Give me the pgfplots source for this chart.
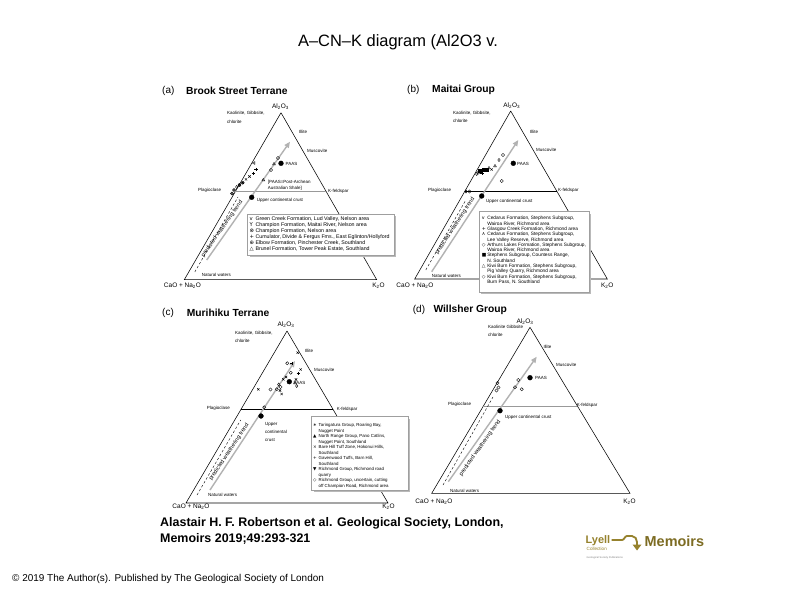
\documentclass[border=0pt]{standalone}
\usepackage{pgfplots}
\pgfplotsset{compat=1.18}
\usepackage{fontspec}
\setmainfont{Liberation Sans}
\newfontfamily\symf{DejaVu Sans}
\usetikzlibrary{arrows.meta}
\definecolor{lyell}{RGB}{150,130,45}
\definecolor{memo}{RGB}{125,108,35}
\definecolor{arr}{RGB}{178,178,178}
\begin{document}
\begin{tikzpicture}[
  lab/.style={font=\fontsize{4.5}{5.4}\selectfont, anchor=west, inner sep=0pt},
  crn/.style={font=\fontsize{6.5}{7.5}\selectfont, inner sep=0pt},
  pt/.style={font=\fontsize{10}{12}\selectfont, anchor=west, inner sep=0pt},
  ptb/.style={font=\bfseries\fontsize{10.3}{12}\selectfont, anchor=west, inner sep=0pt},
  trend/.style={font=\fontsize{5.7}{6.5}\selectfont, inner sep=0pt},
  legbox/.style={draw=gray!75, fill=white, line width=0.5bp},
  legshadow/.style={fill=gray!55, draw=none},
]
\begin{axis}[
  scale only axis, width=794bp, height=595bp,
  xmin=0, xmax=794, ymin=0, ymax=595, y dir=reverse,
  hide axis, clip=false,
  tri/.style={black, line width=0.55bp, mark=none},
  fsp/.style={line width=0.5bp, mark=none},
  dsh/.style={black, line width=0.4bp, dash pattern=on 2.5bp off 2bp, mark=none},
  trendarrow/.style={arr, line width=1.4bp, mark=none, -{Triangle[length=6bp,width=5bp]}},
  pts/.style={only marks, black, mark size=1.6bp, mark options={line width=0.4bp, fill=white}},
  big/.style={only marks, black, mark=*, mark size=2.4bp},
]
\fill[white] (axis cs:0,0) rectangle (axis cs:794,595);

% ---------------- Title and slide text ----------------
\node[font=\fontsize{16.5}{19}\selectfont, inner sep=0pt] at (axis cs:398,42) {A–CN–K diagram (Al2O3 v.};
\node[anchor=west, font=\bfseries\fontsize{12.5}{14}\selectfont, inner sep=0pt] at (axis cs:160,523) {Alastair H. F. Robertson et al. Geological Society, London,};
\node[anchor=west, font=\bfseries\fontsize{12.5}{14}\selectfont, inner sep=0pt] at (axis cs:160,539) {Memoirs 2019;49:293-321};
\node[anchor=west, font=\fontsize{10}{11}\selectfont, inner sep=0pt] at (axis cs:12,579) {© 2019 The Author(s). Published by The Geological Society of London};

% Lyell logo
\node[anchor=west, font=\bfseries\fontsize{11}{12}\selectfont, text=lyell, inner sep=0pt] at (axis cs:585.5,541) {Lyell};
\node[anchor=west, font=\fontsize{4.6}{5}\selectfont, text=lyell, inner sep=0pt] at (axis cs:586.5,549) {Collection};
\node[anchor=west, font=\fontsize{2.6}{3}\selectfont, text=gray, inner sep=0pt] at (axis cs:586.5,557.5) {Geological Society Publications};
\draw[lyell, line width=1.8bp] (axis cs:611.5,540) -- (axis cs:622,540) to[out=0,in=180] (axis cs:627,536) -- (axis cs:632,536) to[out=0,in=90] (axis cs:637,542) -- (axis cs:637,545);
\fill[lyell] (axis cs:632.5,544.5) -- (axis cs:641.5,544.5) -- (axis cs:637,550.5) -- cycle;
\node[anchor=west, font=\bfseries\fontsize{14.5}{16}\selectfont, text=memo, inner sep=0pt] at (axis cs:644.5,541) {Memoirs};

% ================= Panel (a) Brook Street Terrane =================
\node[pt] at (axis cs:162,91) {(a)};
\node[ptb] at (axis cs:186,91) {Brook Street Terrane};
\addplot[tri] coordinates {(281,112.7) (184.3,279.7) (376.7,279.7) (281,112.7)};
\addplot[fsp, gray!80] coordinates {(235.3,191.7) (326.3,191.7)};
\addplot[dsh] coordinates {(194.8,272) (238,197)};
\addplot[trendarrow] coordinates {(206.7,260) (290,141.7)};
\node[trend, rotate=54.8] at (axis cs:222,229) {predicted weathering trend};
\node[crn] at (axis cs:280.5,107) {Al\textsubscript{2}O\textsubscript{3}};
\node[crn] at (axis cs:182.5,285.7) {CaO + Na\textsubscript{2}O};
\node[crn] at (axis cs:378.5,285.7) {K\textsubscript{2}O};
\node[lab] at (axis cs:227,113) {Kaolinite, Gibbsite,};
\node[lab] at (axis cs:227,122) {chlorite};
\node[lab] at (axis cs:299,132) {Illite};
\node[lab] at (axis cs:307,151) {Muscovite};
\node[lab] at (axis cs:285.5,163.5) {PAAS};
\node[lab] at (axis cs:267.7,182.3) {[PAAS=Post-Archean};
\node[lab] at (axis cs:267.7,188.5) {Australian Shale]};
\node[lab] at (axis cs:198,190.7) {Plagioclase};
\node[lab] at (axis cs:328,191.7) {K-feldspar};
\node[lab] at (axis cs:256.7,200.5) {Upper continental crust};
\node[lab] at (axis cs:201.7,275) {Natural waters};
% data (a)
\addplot[pts, mark=triangle, mark options={rotate=90, line width=0.4bp}] coordinates {(254,163)};
\addplot[pts, mark=+] coordinates {(253.3,173.3) (256,169.5)};
\addplot[pts, mark=x] coordinates {(246,179.3) (249.5,176.5)};
\addplot[pts, mark=otimes] coordinates {(242.7,182.7) (239.5,185)};
\addplot[pts, mark=diamond] coordinates {(236.7,187)};
\addplot[pts, mark=oplus] coordinates {(234,190) (232,193.5)};
\addplot[pts, mark=triangle] coordinates {(263.3,180) (274,164)};
\addplot[pts, mark=o] coordinates {(271,170) (278,158)};
\addplot[big] coordinates {(281,163.3) (251.7,197.3)};
% legend (a)
\fill[legshadow] (axis cs:249.7,216.3) rectangle (axis cs:396.3,257);
\draw[legbox] (axis cs:247.7,214.3) rectangle (axis cs:394.3,255);
\node[anchor=north west, inner sep=0pt, align=left, font=\fontsize{5.3}{6.15}\selectfont] at (axis cs:249.3,216.2) {%
\makebox[6bp][l]{\symf v}Green Creek Formation, Lud Valley, Nelson area\\
\makebox[6bp][l]{\symf Y}Champion Formation, Maitai River, Nelson area\\
\makebox[6bp][l]{\symf ⊗}Champion Formation, Nelson area\\
\makebox[6bp][l]{\symf +}Cumulator, Divide \& Fergus Fms., East Eglinton/Hollyford\\
\makebox[6bp][l]{\symf ⊕}Elbow Formation, Pinchester Creek, Southland\\
\makebox[6bp][l]{\symf △}Brunel Formation, Tower Peak Estate, Southland};

% ================= Panel (b) Maitai Group =================
\node[pt] at (axis cs:407,90) {(b)};
\node[ptb] at (axis cs:432,90) {Maitai Group};
\addplot[tri] coordinates {(510.7,111) (414.7,279) (607.3,279) (510.7,111)};
\addplot[fsp, black, line width=0.8bp] coordinates {(465,191) (556.7,191)};
\addplot[dsh] coordinates {(425.8,270) (465.8,200)};
\addplot[trendarrow] coordinates {(431.7,271.7) (518.3,140)};
\node[trend, rotate=56.7] at (axis cs:455,226) {predicted weathering trend};
\node[crn] at (axis cs:511.7,106) {Al\textsubscript{2}O\textsubscript{3}};
\node[crn] at (axis cs:415,286) {CaO + Na\textsubscript{2}O};
\node[crn] at (axis cs:607.3,285.7) {K\textsubscript{2}O};
\node[lab] at (axis cs:453,112.7) {Kaolinite, Gibbsite,};
\node[lab] at (axis cs:453,121) {chlorite};
\node[lab] at (axis cs:530,131.7) {Illite};
\node[lab] at (axis cs:536,150) {Muscovite};
\node[lab] at (axis cs:517,164) {PAAS};
\node[lab] at (axis cs:428,190) {Plagioclase};
\node[lab] at (axis cs:558,190.7) {K-feldspar};
\node[lab] at (axis cs:486,201.7) {Upper continental crust};
\node[lab] at (axis cs:431.7,275.7) {Natural waters};
% data (b)
\addplot[pts, mark=square*, mark options={fill=black}] coordinates {(480,171) (484,170) (487,169.5)};
\addplot[pts, mark=diamond] coordinates {(476.7,174) (499,160) (466,191.5)};
\addplot[pts, mark=triangle] coordinates {(489,168) (495,166)};
\addplot[pts, mark=+] coordinates {(482,173)};
\addplot[pts, mark=x] coordinates {(491.7,169.5)};
\addplot[pts, mark=o] coordinates {(503,155) (501.7,181) (469.5,191.5) (478.5,172.5)};
\addplot[big] coordinates {(513.3,163.3) (481.7,196)};
% legend (b)
\fill[legshadow] (axis cs:481,213.5) rectangle (axis cs:591,294);
\draw[legbox] (axis cs:479,211.5) rectangle (axis cs:589,292);
\node[anchor=north west, inner sep=0pt, align=left, font=\fontsize{4.8}{5.3}\selectfont] at (axis cs:481.6,216.3) {%
\makebox[5.5bp][l]{\symf v}Cedarus Formation, Stephens Subgroup,\\
\makebox[5.5bp][l]{}Wairoa River, Richmond area\\
\makebox[5.5bp][l]{\symf +}Glasgow Creek Formation, Richmond area\\
\makebox[5.5bp][l]{\symf ∧}Cedarus Formation, Stephens Subgroup,\\
\makebox[5.5bp][l]{}Lee Valley Reserve, Richmond area\\
\makebox[5.5bp][l]{\symf ◇}Arthurs Lakes Formation, Stephens Subgroup,\\
\makebox[5.5bp][l]{}Wairoa River, Richmond area\\
\makebox[5.5bp][l]{\symf ■}Stephens Subgroup, Countess Range,\\
\makebox[5.5bp][l]{}N. Southland\\
\makebox[5.5bp][l]{\symf △}Kiwi Burn Formation, Stephens Subgroup,\\
\makebox[5.5bp][l]{}Pig Valley Quarry, Richmond area\\
\makebox[5.5bp][l]{\symf ◇}Kiwi Burn Formation, Stephens Subgroup,\\
\makebox[5.5bp][l]{}Burn Pass, N. Southland};

% ================= Panel (c) Murihiku Terrane =================
\node[pt] at (axis cs:162,313) {(c)};
\node[ptb] at (axis cs:186.7,313) {Murihiku Terrane};
\addplot[tri] coordinates {(287,331) (186,503) (388,503) (287,331)};
\addplot[fsp, black] coordinates {(241,409.3) (333,409.3)};
\addplot[dsh] coordinates {(197,495) (240.7,420)};
\addplot[trendarrow] coordinates {(210,490) (295,361)};
\node[trend, rotate=56.5] at (axis cs:229,452) {predicted weathering trend};
\node[crn] at (axis cs:286,325) {Al\textsubscript{2}O\textsubscript{3}};
\node[crn] at (axis cs:191,506.5) {CaO + Na\textsubscript{2}O};
\node[crn] at (axis cs:388.5,506.5) {K\textsubscript{2}O};
\node[lab] at (axis cs:235,332.7) {Kaolinite, Gibbsite,};
\node[lab] at (axis cs:235,341) {chlorite};
\node[lab] at (axis cs:305,350.7) {Illite};
\node[lab] at (axis cs:314,370) {Muscovite};
\node[lab] at (axis cs:293.5,382.5) {PAAS};
\node[lab] at (axis cs:206.7,408.3) {Plagioclase};
\node[lab] at (axis cs:336.7,409) {K-feldspar};
\node[lab] at (axis cs:265,424) {Upper};
\node[lab] at (axis cs:265,431.7) {continental};
\node[lab] at (axis cs:265,440) {crust};
\node[lab] at (axis cs:208,495) {Natural waters};
% data (c)
\addplot[pts, mark=x] coordinates {(297.7,352.7) (300.7,369.5) (283.3,379.3) (296,379.5) (258.3,389.3) (281.7,394) (280,390.5) (286,377)};
\addplot[pts, mark=o] coordinates {(287.3,363.3) (290.7,372.7) (276.7,389.3) (280.5,387) (264.3,407.3) (270.5,389.5)};
\addplot[pts, mark=+] coordinates {(291.7,363.3) (298.3,373.5)};
\addplot[pts, mark=diamond] coordinates {(296.7,386) (278.7,384.5)};
\addplot[pts, mark=triangle] coordinates {(295,383)};
\addplot[big] coordinates {(289.3,381.7) (261,416)};
% legend (c)
\fill[legshadow] (axis cs:313.7,418.7) rectangle (axis cs:410,492);
\draw[legbox] (axis cs:311.7,416.7) rectangle (axis cs:408,490);
\node[anchor=north west, inner sep=0pt, align=left, font=\fontsize{4.4}{5.55}\selectfont] at (axis cs:313,423.2) {%
\makebox[5.5bp][l]{\symf ∗}Taringatura Group, Roaring Bay,\\
\makebox[5.5bp][l]{}Nugget Point\\
\makebox[5.5bp][l]{\symf ▲}North Range Group, Pano Catlins,\\
\makebox[5.5bp][l]{}Nugget Point, Southland\\
\makebox[5.5bp][l]{\symf ×}Bare Hill Tuff Zone, Hokonui Hills,\\
\makebox[5.5bp][l]{}Southland\\
\makebox[5.5bp][l]{\symf +}Gavenwood Tuffs, Barn Hill,\\
\makebox[5.5bp][l]{}Southland\\
\makebox[5.5bp][l]{\symf ▼}Richmond Group, Richmond road\\
\makebox[5.5bp][l]{}quarry\\
\makebox[5.5bp][l]{\symf ◇}Richmond Group, uncertain, cutting\\
\makebox[5.5bp][l]{}off Champion Road, Richmond area};

% ================= Panel (d) Willsher Group =================
\node[pt] at (axis cs:412.7,310) {(d)};
\node[ptb] at (axis cs:433.3,310) {Willsher Group};
\addplot[tri] coordinates {(530,327.3) (431.7,493.3) (630,493.3) (530,327.3)};
\addplot[fsp, gray!80] coordinates {(483.4,406) (577.4,406)};
\addplot[dsh] coordinates {(443,485) (493,397)};
\addplot[trendarrow] coordinates {(448.3,481.7) (536.7,356.7)};
\node[trend, rotate=54.7] at (axis cs:480,448) {predicted weathering trend};
\node[crn] at (axis cs:525,321.7) {Al\textsubscript{2}O\textsubscript{3}};
\node[crn] at (axis cs:434,501.3) {CaO + Na\textsubscript{2}O};
\node[crn] at (axis cs:629.5,501.3) {K\textsubscript{2}O};
\node[lab] at (axis cs:488,326.7) {Kaolinite Gibbsite};
\node[lab] at (axis cs:488,335) {chlorite};
\node[lab] at (axis cs:543.3,346.7) {Illite};
\node[lab] at (axis cs:556,365) {Muscovite};
\node[lab] at (axis cs:535,378) {PAAS};
\node[lab] at (axis cs:448,404) {Plagioclase};
\node[lab] at (axis cs:576.7,405) {K-feldspar};
\node[lab] at (axis cs:505,417.3) {Upper continental crust};
\node[lab] at (axis cs:450,490.7) {Natural waters};
% data (d)
\addplot[pts, mark=o] coordinates {(497.5,383) (498.5,387.5) (496.5,390.5) (518.3,380) (515,387.3) (521.7,389.3)};
\addplot[big] coordinates {(530,377.7) (500,410.7)};

\end{axis}
\end{tikzpicture}
\end{document}
